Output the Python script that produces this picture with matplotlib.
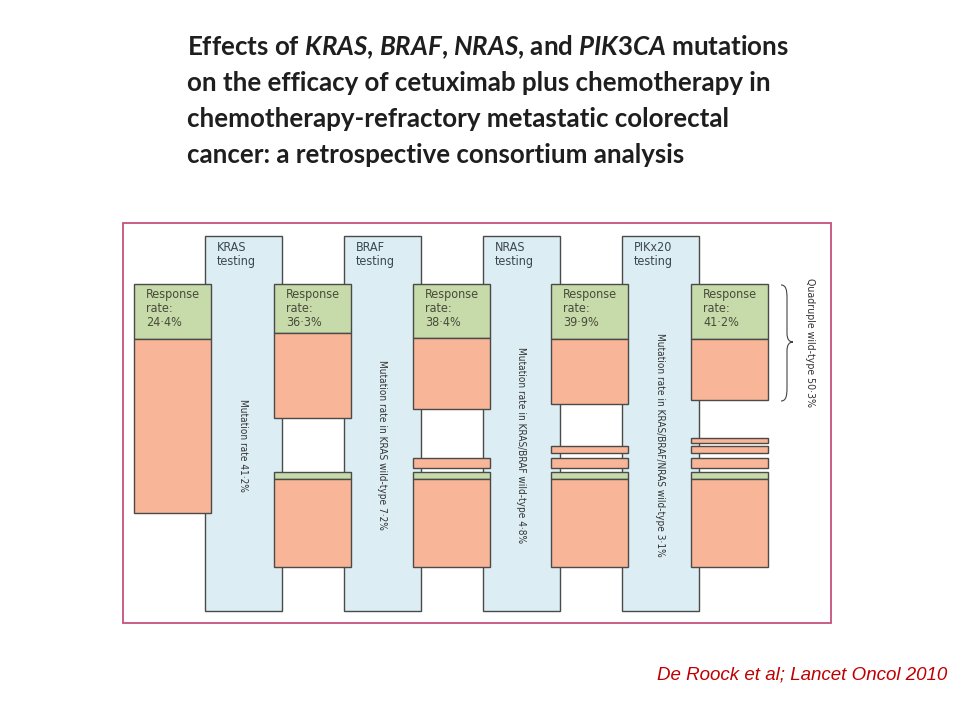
import matplotlib

matplotlib.use("Agg")
import matplotlib.pyplot as plt
from matplotlib.patches import Rectangle, PathPatch
from matplotlib.path import Path

# --- data ---
genes = ["KRAS", "BRAF", "NRAS", "PIKx20"]
mutation_labels = [
    "Mutation rate 41·2%",
    "Mutation rate in KRAS wild-type 7·2%",
    "Mutation rate in KRAS/BRAF wild-type 4·8%",
    "Mutation rate in KRAS/BRAF/NRAS wild-type 3·1%",
]
response_rates = ["24·4%", "36·3%", "38·4%", "39·9%", "41·2%"]
n_excluded = [0, 1, 2, 3, 4]  # mutated groups removed before each step
quadruple_label = "Quadruple wild-type 50·3%"
citation = "De Roock et al; Lancet Oncol 2010"

# --- layout (pixels, 960x720 canvas) ---
col_left = [205, 344, 483, 622]
col_top, col_bottom, col_w = 236, 611, 77
box_left = [134, 274, 413, 551, 691]
box_w, box_top = 77, 284
green_bottom = [339, 333, 338, 339, 339]
salmon_bottom = [513, 418, 409, 404, 400]
lower_top, lower_green, lower_bottom = 472, 479, 567
strip_spans = [(458, 468), (446, 453), (438, 443)]

BLUE = "#dcedf3"
GREEN = "#c6dba9"
SALMON = "#f9b597"
EDGE = "#4a4a4a"
TXT = "#3c4650"

plt.rcParams["mathtext.fontset"] = "custom"
plt.rcParams["mathtext.it"] = "Lato:italic:bold"
plt.rcParams["mathtext.rm"] = "Lato:bold"

fig = plt.figure(figsize=(9.6, 7.2), dpi=100)
ax = fig.add_axes([0, 0, 1, 1])
ax.set_xlim(0, 960)
ax.set_ylim(720, 0)
ax.axis("off")

small = dict(family="DejaVu Sans", stretch="condensed")

# title
title_lines = [
    r"Effects of $KRAS$, $BRAF$, $NRAS$, and $PIK3CA$ mutations",
    "on the efficacy of cetuximab plus chemotherapy in",
    "chemotherapy-refractory metastatic colorectal",
    "cancer: a retrospective consortium analysis",
]
for i, line in enumerate(title_lines):
    ax.text(187, 55 + i * 36, line, fontsize=18.6, family="Lato",
            weight="bold", color="#1e1e1e", va="baseline", ha="left")

# frame
ax.add_patch(Rectangle((123, 223), 831 - 123, 623 - 223, fill=False,
                       ec="#c4507c", lw=1.3))


def rect(x, y0, y1, fc):
    ax.add_patch(Rectangle((x, y0), box_w, y1 - y0, fc=fc, ec=EDGE, lw=1.0))


# testing columns
for i, g in enumerate(genes):
    ax.add_patch(Rectangle((col_left[i], col_top), col_w, col_bottom - col_top,
                           fc=BLUE, ec=EDGE, lw=1.0))
    ax.text(col_left[i] + 12, col_top + 5, g + "\ntesting", fontsize=9,
            color=TXT, va="top", ha="left", linespacing=1.1, **small)
    ax.text(col_left[i] + 38, 445, mutation_labels[i], rotation=-90,
            fontsize=7.2, color="#333333", ha="center", va="center", **small)

# response boxes
for i, rr in enumerate(response_rates):
    x = box_left[i]
    rect(x, box_top, green_bottom[i], GREEN)
    rect(x, green_bottom[i], salmon_bottom[i], SALMON)
    ax.text(x + 12, box_top + 4, "Response\nrate:\n" + rr, fontsize=9,
            color="#4a4a3a", va="top", ha="left", linespacing=1.1, **small)
    if n_excluded[i] > 0:
        rect(x, lower_top, lower_green, GREEN)
        rect(x, lower_green, lower_bottom, SALMON)
        for y0, y1 in strip_spans[: n_excluded[i] - 1]:
            rect(x, y0, y1, SALMON)

# curly brace for quadruple wild-type
bx, tip = 787, 793
y0, ym, y1 = 285, 342, 401
verts = [(781, y0), (786, y0), (bx, y0 + 5), (bx, y0 + 13),
         (bx, ym - 9),
         (bx, ym - 3), (bx + 2, ym), (tip, ym),
         (bx + 2, ym), (bx, ym + 3), (bx, ym + 9),
         (bx, y1 - 13),
         (bx, y1 - 5), (786, y1), (781, y1)]
codes = [Path.MOVETO, Path.CURVE4, Path.CURVE4, Path.CURVE4,
         Path.LINETO,
         Path.CURVE4, Path.CURVE4, Path.CURVE4,
         Path.CURVE4, Path.CURVE4, Path.CURVE4,
         Path.LINETO,
         Path.CURVE4, Path.CURVE4, Path.CURVE4]
ax.add_patch(PathPatch(Path(verts, codes), fill=False, ec="#444444", lw=0.8))
ax.text(810, ym, quadruple_label, rotation=-90, fontsize=7.6, color="#333333",
        ha="center", va="center", **small)

# citation
ax.text(947, 675, citation, fontsize=13.5, style="italic",
        family="Liberation Sans", color="#c00000", ha="right", va="center")

fig.savefig("out.png", dpi=100)
